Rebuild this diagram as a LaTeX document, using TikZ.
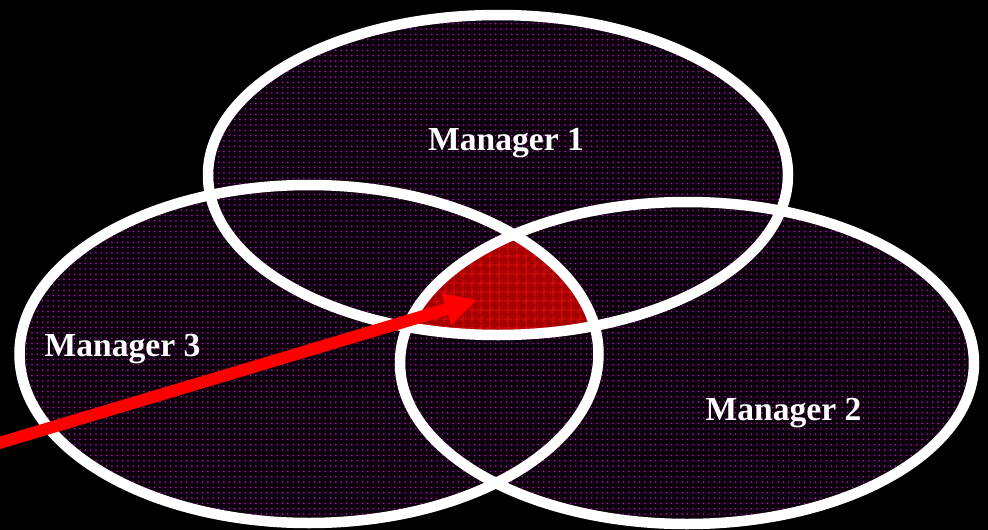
\documentclass[tikz,border=0pt]{standalone}
\usepackage{fontspec}
\setmainfont{Liberation Serif}
\usetikzlibrary{arrows.meta,patterns.meta}
\definecolor{dotmag}{RGB}{180,20,180}
\definecolor{ellbg}{RGB}{12,0,12}
\definecolor{redbg}{RGB}{165,0,0}
\definecolor{redgrid}{RGB}{240,20,20}
\tikzdeclarepattern{
  name=mydots,
  type=uncolored,
  bottom left={(-2.67pt,-2.67pt)},
  top right={(2.67pt,2.67pt)},
  tile size={(5.33pt,5.33pt)},
  code={\fill (0pt,0pt) circle (0.85pt);}
}
\tikzdeclarepattern{
  name=mygrid,
  type=uncolored,
  bottom left={(0pt,0pt)},
  top right={(9pt,9pt)},
  tile size={(9pt,9pt)},
  code={\draw[line width=0.9pt] (0pt,4.5pt) -- (9pt,4.5pt);
        \draw[line width=0.9pt] (4.5pt,0pt) -- (4.5pt,9pt);
        \fill (2.25pt,2.25pt) circle (0.6pt);
        \fill (6.75pt,6.75pt) circle (0.6pt);}
}
\tikzset{
  ellfill/.style={fill=ellbg},
  elldots/.style={pattern={mydots}, pattern color=dotmag},
  ellline/.style={draw=white, line width=10.5pt},
  mlabel/.style={text=white, font=\bfseries\fontsize{33.6}{40}\selectfont, anchor=base, inner sep=0pt},
  bigarrow/.style={draw=red, line width=12pt, -{Triangle[length=32pt,width=31pt]}}
}
\begin{document}
\begin{tikzpicture}[x=1pt,y=-1pt]
\useasboundingbox (0,0) rectangle (988,530);
\fill[black] (0,0) rectangle (988,530);
% ellipse centres
\coordinate (c1) at (498,175);
\coordinate (c2) at (687,363);
\coordinate (c3) at (309,354);
% fills
\foreach \c/\rx/\ry in {c1/290pt/160pt, c2/287pt/161pt, c3/289.5pt/169pt}{
  \fill[ellfill] (\c) ellipse [x radius=\rx, y radius=\ry];
  \fill[elldots] (\c) ellipse [x radius=\rx, y radius=\ry];
}
% triple intersection
\begin{scope}
  \clip (c1) ellipse [x radius=290pt, y radius=160pt];
  \clip (c2) ellipse [x radius=287pt, y radius=161pt];
  \clip (c3) ellipse [x radius=284pt, y radius=165pt];
  \fill[redbg] (0,0) rectangle (988,530);
  \fill[pattern={mygrid}, pattern color=redgrid] (0,0) rectangle (988,530);
\end{scope}
% outlines
\draw[ellline] (c1) ellipse [x radius=290pt, y radius=160pt];
\draw[ellline] (c2) ellipse [x radius=287pt, y radius=161pt];
\draw[ellline] (c3) ellipse [x radius=289.5pt, y radius=169pt];
% labels
\node[mlabel] (m1) at (506,150) {Manager 1};
\node[mlabel] (m2) at (783.5,420) {Manager 2};
\node[mlabel] (m3) at (122.5,356) {Manager 3};
% arrow
\coordinate (astart) at (-4,444);
\coordinate (atip) at (477,300);
\draw[bigarrow] (astart) -- (atip);
\end{tikzpicture}
\end{document}
